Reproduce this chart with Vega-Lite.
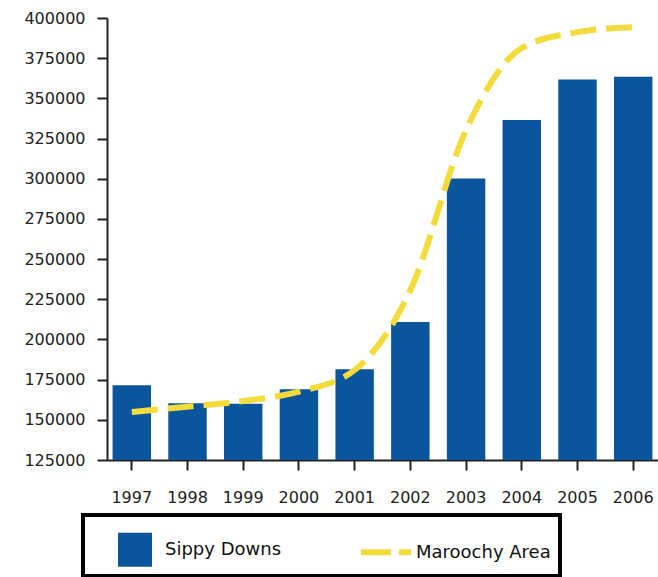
{
  "$schema": "https://vega.github.io/schema/vega-lite/v6.json",
  "autosize": "none",
  "width": 551,
  "height": 442,
  "padding": {"left": 107, "top": 18, "right": 0, "bottom": 117},
  "background": "white",
  "config": {
    "view": {"stroke": null},
    "font": "DejaVu Sans",
    "axis": {"domainColor": "#222", "domainWidth": 2, "tickColor": "#222", "tickWidth": 2, "tickSize": 10, "labelColor": "#222", "labelFont": "DejaVu Sans", "labelFontSize": 16, "grid": false, "title": null}
  },
  "data": {
    "values": [
      {"year": "1997", "sippy": 171500, "maroochy": 154900},
      {"year": "1998", "sippy": 160300, "maroochy": 158200},
      {"year": "1999", "sippy": 160000, "maroochy": 161700},
      {"year": "2000", "sippy": 169000, "maroochy": 167500},
      {"year": "2001", "sippy": 181400, "maroochy": 181000},
      {"year": "2002", "sippy": 210800, "maroochy": 230700},
      {"year": "2003", "sippy": 300200, "maroochy": 330300},
      {"year": "2004", "sippy": 336500, "maroochy": 381300},
      {"year": "2005", "sippy": 361800, "maroochy": 391200},
      {"year": "2006", "sippy": 363400, "maroochy": 394300}
    ]
  },
  "encoding": {
    "x": {"field": "year", "type": "ordinal", "scale": {"paddingInner": 0.31, "paddingOuter": 0.1}, "axis": {"labelAngle": 0, "labelPadding": 19}}
  },
  "layer": [
    {
      "mark": {"type": "bar", "clip": true},
      "encoding": {
        "y": {"field": "sippy", "type": "quantitative", "scale": {"domain": [125000, 400000], "zero": false, "nice": false}, "axis": {"values": [125000, 150000, 175000, 200000, 225000, 250000, 275000, 300000, 325000, 350000, 375000, 400000], "labelPadding": 12, "format": "d"}},
        "color": {
          "datum": "Sippy Downs", "type": "nominal",
          "scale": {"domain": ["Sippy Downs", "Maroochy Area"], "range": ["#0a559c", "#f4db3c"]},
          "legend": {
            "title": null,
            "orient": "none",
            "legendX": -24,
            "legendY": 497,
            "direction": "horizontal",
            "columns": 2,
            "columnPadding": 61,
            "padding": 9,
            "strokeColor": "#000",
            "symbolSize": 1156,
            "symbolOffset": 34,
            "labelOffset": 21,
            "labelFontSize": 18,
            "labelColor": "#111",
            "labelFont": "DejaVu Sans",
            "encode": {
              "legend": {"update": {"strokeWidth": {"value": 4}}},
              "labels": {"update": {"dy": {"value": 17}}},
              "symbols": {
                "update": {
                  "y": {"value": 25.5},
                  "shape": {"signal": "datum.value == 'Sippy Downs' ? 'square' : 'stroke'"},
                  "size": {"signal": "datum.value == 'Sippy Downs' ? 1156 : 2500"},
                  "fill": {"signal": "datum.value == 'Sippy Downs' ? '#0a559c' : 'transparent'"},
                  "stroke": {"signal": "datum.value == 'Sippy Downs' ? 'transparent' : '#f4db3c'"},
                  "strokeWidth": {"signal": "datum.value == 'Sippy Downs' ? 0 : 6"},
                  "strokeDash": {"signal": "datum.value == 'Sippy Downs' ? [] : [30, 8]"},
                  "opacity": {"value": 1}
                }
              }
            }
          }
        }
      }
    },
    {
      "mark": {"type": "line", "interpolate": "monotone", "strokeWidth": 6, "strokeDash": [26, 10]},
      "encoding": {
        "y": {"field": "maroochy", "type": "quantitative"},
        "color": {"datum": "Maroochy Area", "type": "nominal"}
      }
    }
  ]
}
